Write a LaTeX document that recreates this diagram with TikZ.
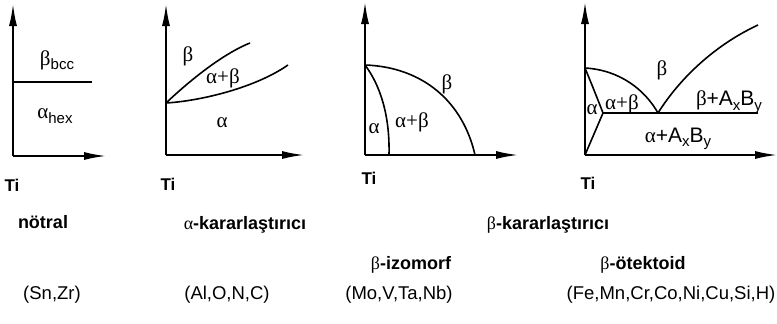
\documentclass[tikz,border=0pt]{standalone}
\usepackage{fontspec}
\setmainfont{Liberation Sans}
\newfontfamily\grk{Liberation Serif}
\usetikzlibrary{arrows.meta}
\begin{document}
\begin{tikzpicture}[x=1pt,y=-1pt,
  axis/.style={line width=1.7pt,-{Latex[length=22pt,width=8pt]}},
  curve/.style={line width=1.6pt},
  glbl/.style={inner sep=0pt,font=\fontsize{21}{22}\selectfont\grk},
  txt/.style={inner sep=0pt,anchor=base,font=\fontsize{18.5}{20}\selectfont},
  head/.style={inner sep=0pt,anchor=base,font=\fontsize{18}{20}\selectfont\bfseries},
  ti/.style={inner sep=0pt,anchor=base,font=\fontsize{17}{20}\selectfont\bfseries}]
\useasboundingbox (0,0) rectangle (777,324);
\newcommand\lowsub[1]{\raisebox{-4.5pt}{\fontsize{15}{15}\selectfont\rmfamily #1}}
% ---------- panel 1 ----------
\coordinate (o1) at (13,156);
\coordinate (y1) at (13,4);
\coordinate (x1) at (106,156);
\coordinate (h1a) at (13,82);
\coordinate (h1b) at (92,82);
\draw[axis] (o1) -- (y1);
\draw[axis] (o1) -- (x1);
\draw[curve] (h1a) -- (h1b);
\node[glbl] (bbcc) at (57,60) {β\lowsub{bcc}};
\node[glbl] (ahex) at (55,116) {α\lowsub{hex}};
\node[ti] (ti1) at (12,191) {Ti};
% ---------- panel 2 ----------
\coordinate (o2) at (166,155);
\coordinate (y2) at (166,4);
\coordinate (x2) at (304,155);
\coordinate (p2) at (166,103);
\coordinate (u2) at (250,43);
\coordinate (l2) at (288,65);
\draw[axis] (o2) -- (y2);
\draw[axis] (o2) -- (x2);
\draw[curve] (p2) .. controls (185,85) and (220,55) .. (u2);
\draw[curve] (p2) .. controls (200,101) and (255,88) .. (l2);
\node[glbl] (b2) at (188,56) {β};
\node[glbl] (ab2) at (223,78) {α+β};
\node[glbl] (a2) at (222,123) {α};
\node[ti] (ti2) at (168,190) {Ti};
% ---------- panel 3 ----------
\coordinate (o3) at (365,155);
\coordinate (y3) at (365,2);
\coordinate (x3) at (518,155);
\coordinate (p3) at (365,65);
\coordinate (e3a) at (389,155);
\coordinate (e3b) at (475,155);
\draw[axis] (o3) -- (y3);
\draw[axis] (o3) -- (x3);
\draw[curve] (p3) .. controls (380,85) and (390,115) .. (e3a);
\draw[curve] (p3) .. controls (423,67) and (463,102) .. (e3b);
\node[glbl] (b3) at (447,84) {β};
\node[glbl] (ab3) at (412,122) {α+β};
\node[glbl] (a3) at (374,129) {α};
\node[ti] (ti3) at (369,184) {Ti};
% ---------- panel 4 ----------
\coordinate (o4) at (585,155);
\coordinate (y4) at (585,2);
\coordinate (x4) at (777,155);
\coordinate (p4) at (585,68);
\coordinate (q4) at (603,113);
\coordinate (e4) at (658,113);
\coordinate (r4) at (758,113);
\coordinate (t4) at (758,25);
\draw[axis] (o4) -- (y4);
\draw[axis] (o4) -- (x4);
\draw[curve] (p4) .. controls (620,70) and (645,90) .. (e4);
\draw[curve] (p4) .. controls (592,85) and (598,100) .. (q4);
\draw[curve] (q4) -- (o4);
\draw[curve] (q4) -- (r4);
\draw[curve] (e4) .. controls (680,78) and (715,45) .. (t4);
\node[glbl] (b4) at (662,70) {β};
\node[glbl] (ab4) at (622,104) {α+β};
\node[glbl] (a4) at (592,110) {α};
\node[glbl] (bab4) at (729,102) {β{\rmfamily+A}\lowsub{x}{\rmfamily B}\lowsub{y}};
\node[glbl] (aab4) at (678,139) {α{\rmfamily+A}\lowsub{x}{\rmfamily B}\lowsub{y}};
\node[ti] (ti4) at (588,189) {Ti};
% ---------- captions ----------
\node[head] (n1) at (43,228) {nötral};
\node[head] (n2) at (245,229) {{\mdseries\grk α}-kararlaştırıcı};
\node[head] (n3) at (548,229) {{\mdseries\grk β}-kararlaştırıcı};
\node[head] (n4) at (411,269) {{\mdseries\grk β}-izomorf};
\node[head] (n5) at (643,269) {{\mdseries\grk β}-ötektoid};
\node[txt] (l1) at (52,299) {(Sn,Zr)};
\node[txt] (l2) at (227,299) {(Al,O,N,C)};
\node[txt] (l3) at (399,299) {(Mo,V,Ta,Nb)};
\node[txt] (l4) at (671,299) {(Fe,Mn,Cr,Co,Ni,Cu,Si,H)};
\end{tikzpicture}
\end{document}
